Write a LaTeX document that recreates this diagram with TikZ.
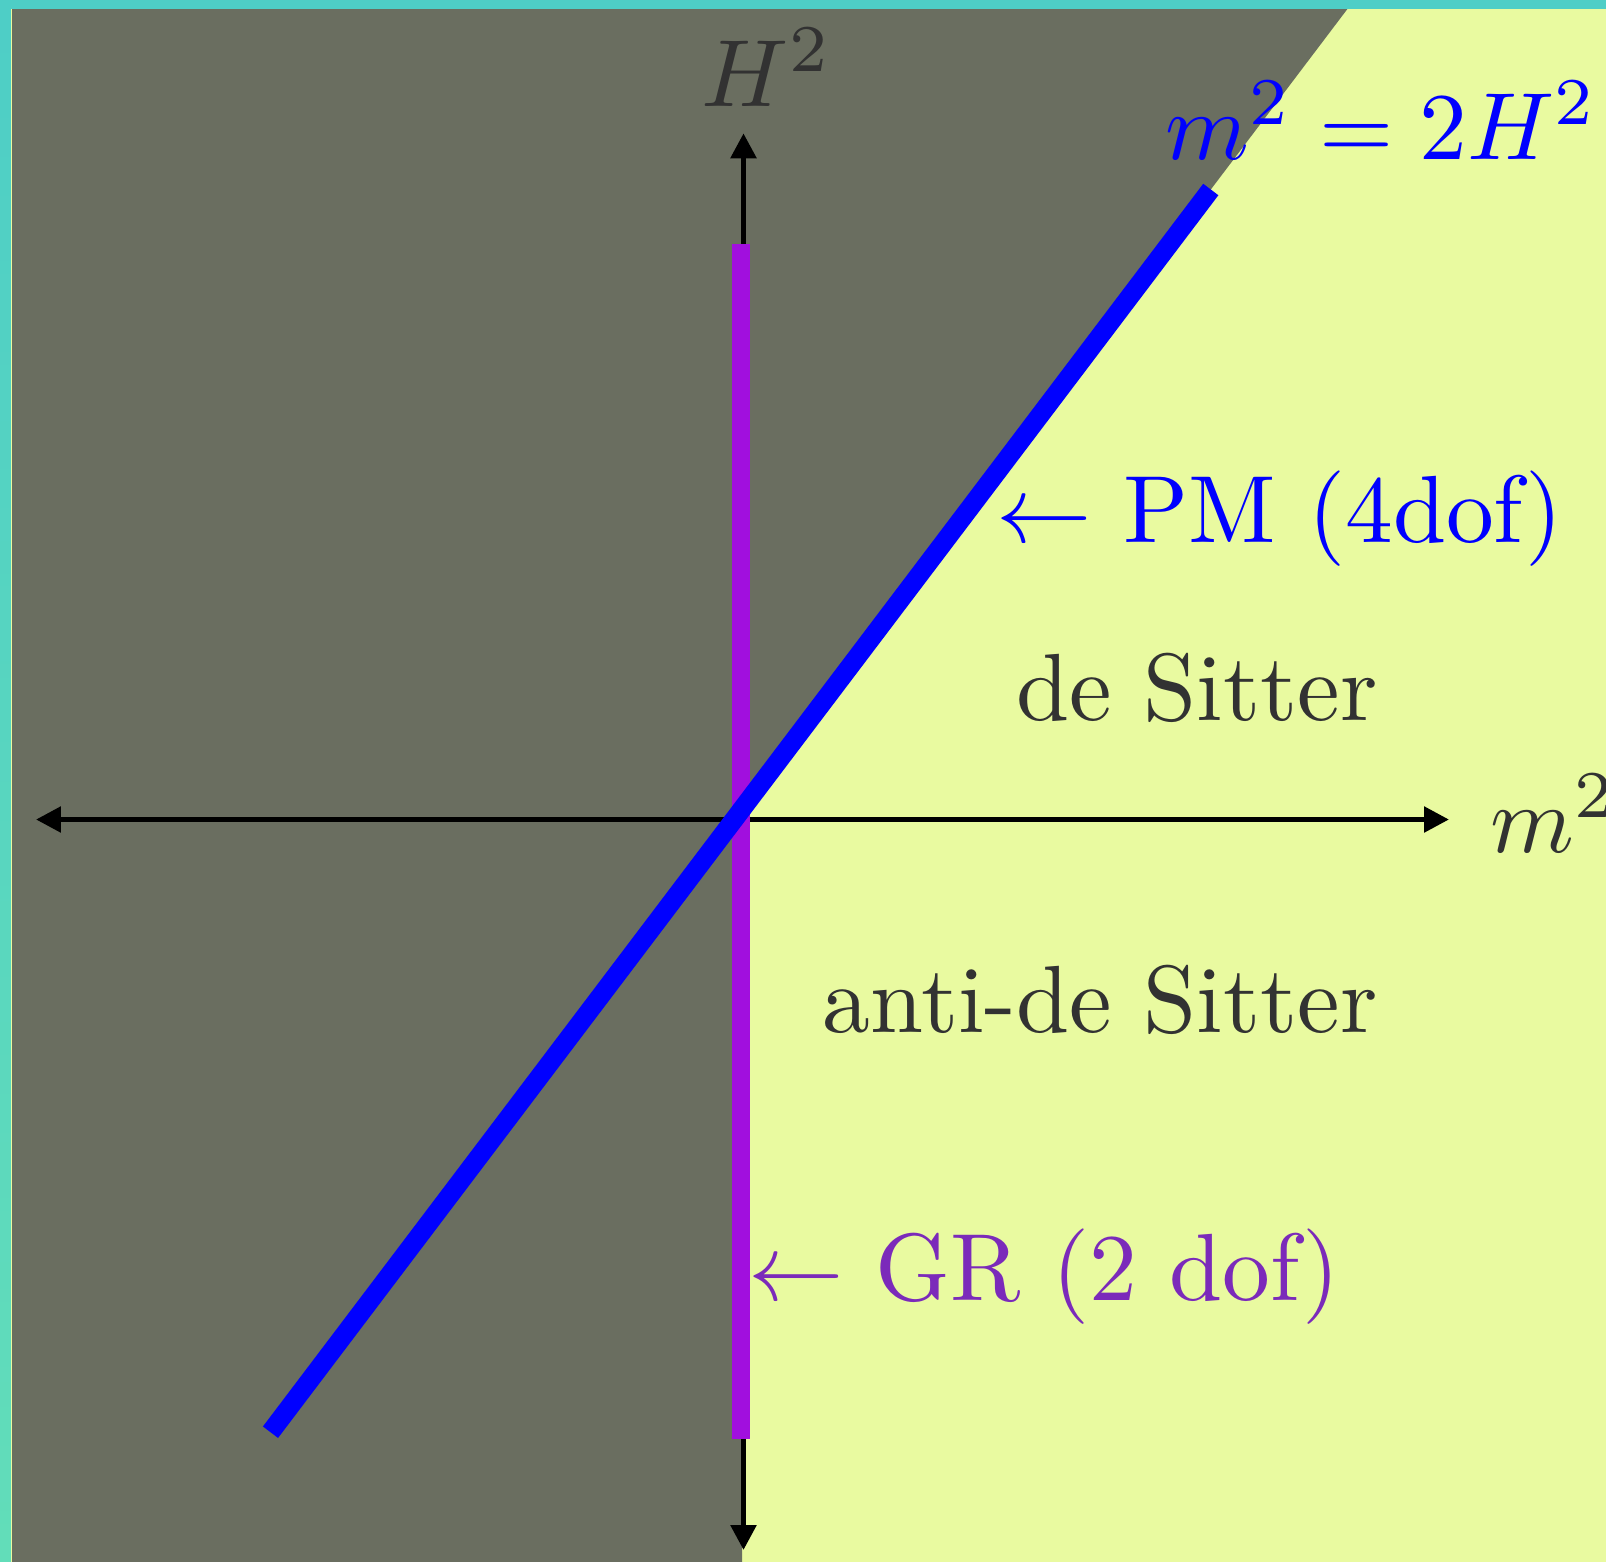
\documentclass[tikz,border=0pt]{standalone}
\usetikzlibrary{arrows.meta}
\definecolor{tealtop}{RGB}{78,206,198}
\definecolor{tealbot}{RGB}{98,221,185}
\definecolor{paleyel}{RGB}{233,250,160}
\definecolor{bggrey}{RGB}{106,110,96}
\definecolor{labgrey}{RGB}{50,50,50}
\definecolor{barpurple}{RGB}{161,15,222}
\definecolor{grpurple}{RGB}{123,42,186}
\tikzset{
  axisline/.style={line width=0.575pt, black,
    {Triangle[length=2.617pt,width=2.617pt]}-{Triangle[length=2.617pt,width=2.617pt]}},
  grbar/.style={line width=1.885pt, barpurple},
  pmbar/.style={line width=1.99pt, blue},
  lbl/.style={inner sep=0pt, font=\normalsize}
}
\begin{document}
\begin{tikzpicture}[x=0.1047pt,y=-0.1047pt]
\useasboundingbox (0,0) rectangle (1606,1562);
\shade[top color=tealtop, bottom color=tealbot] (0,0) rectangle (1606,1562);
\fill[paleyel] (11,9) rectangle (1606,1562);
\fill[bggrey] (12,9) -- (1347.4,9) -- (742,809) -- (742,1562) -- (12,1562) -- cycle;
% axes
\draw[axisline] (743.5,1550) -- (743.5,133.3);
\draw[axisline] (36,819.5) -- (1449,819.5);
% lines
\draw[grbar] (741,244) -- (741,1439);
\draw[pmbar] (270.5,1432.2) -- (1210.8,189.5);
% labels
\node[lbl, text=labgrey, anchor=base west] (hlab) at (700,106) {$H^2$};
\node[lbl, text=labgrey, anchor=base west] (mlab) at (1489,852) {$m^2$};
\node[lbl, text=blue, anchor=base west] (eqlab) at (1164,159) {$m^2 = 2H^2$};
\node[lbl, text=blue, anchor=base west] (pmlab) at (994.5,542.7) {$\leftarrow$ PM (4dof)};
\node[lbl, text=labgrey, anchor=base east] (ds) at (1379.5,720) {de Sitter};
\node[lbl, text=labgrey, anchor=base east] (ads) at (1379.5,1032) {anti-de Sitter};
\node[lbl, text=grpurple, anchor=base west] (gr) at (746.3,1300) {$\leftarrow$ GR (2 dof)};
\end{tikzpicture}
\end{document}
